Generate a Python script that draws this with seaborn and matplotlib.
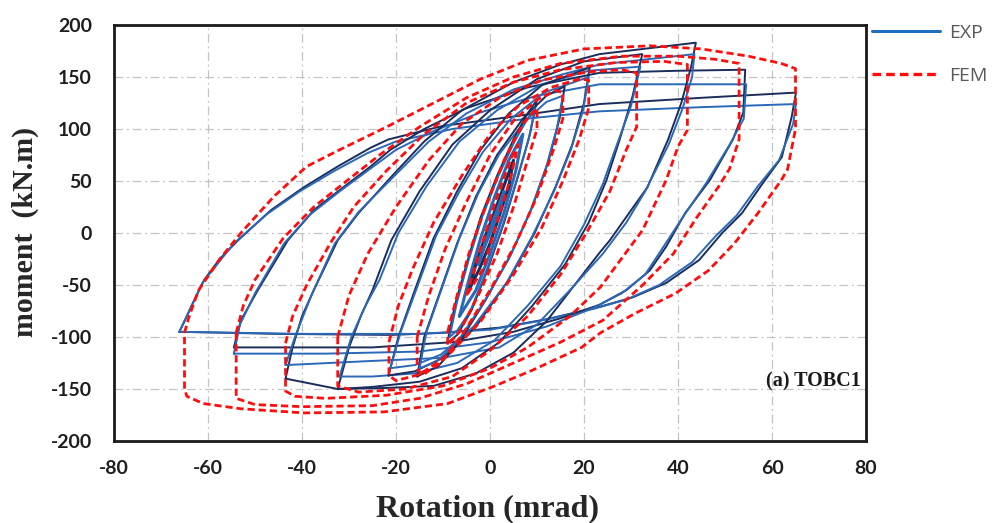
import matplotlib
matplotlib.use("Agg")
import matplotlib.pyplot as plt
import seaborn as sns
from matplotlib.lines import Line2D

# ---------------- data (rotation in mrad, moment in kN.m) ----------------
# Experimental loops (EXP)
EXP_66A_X = [-66.1, -64.8, -63.6, -60.8, -57.5, -53.6, -46.6, -39.6, -32.4, -25.4, -21.6, -10, 5, 23.3, 45, 65.1,
             64.2, 62.1, 57.9, 53.6, 49.4, 44.5, 37.5, 30.3, 23.3, 12, 2, -10, -21, -45, -66.1]
EXP_66A_Y = [-95, -83, -71, -45, -25, -7, 22, 44, 64, 82, 90, 103, 112, 124, 130, 135,
             112, 73, 47, 19, 0, -26, -48, -62, -71, -83, -91, -96, -98, -97, -95]
EXP_66B_X = [-66.1, -63.8, -61.2, -54.5, -47.5, -40.5, -33, -26, -20, -8, 8, 23.3, 45, 65.1,
             64.5, 61.5, 57, 52.5, 48, 43, 36, 29, 22, 10, 0, -15, -40, -66.1]
EXP_66B_Y = [-95, -73, -48, -10, 18, 40, 60, 77, 88, 100, 110, 117, 121, 124,
             105, 70, 45, 17, -3, -28, -50, -64, -73, -85, -93, -97, -97, -95]
EXP_55A_X = [-54.5, -53, -49.4, -43, -37.5, -31.2, -25.4, -21.2, -14, -5, 8, 23.3, 40, 54.3,
             53.9, 51.7, 46.8, 41.5, 37.5, 34, 29, 23.3, 15, 5, -8, -25, -40, -54.5]
EXP_55A_Y = [-110, -84, -55, -7, 22, 44, 64, 80, 100, 120, 140, 154, 156, 157,
             116, 90, 51, 19, -13, -36, -55, -69, -82, -95, -105, -110, -110, -110]
EXP_55B_X = [-54.5, -53.2, -50, -43.8, -38.2, -32, -26, -20, -12, -2, 10, 23.3, 40, 54.5,
             54, 51, 46, 41, 36.5, 33, 28, 22, 12, 0, -15, -35, -54.5]
EXP_55B_Y = [-116, -88, -58, -10, 18, 40, 60, 80, 98, 116, 132, 143, 143, 143,
             110, 85, 48, 15, -16, -40, -58, -72, -90, -105, -114, -116, -116]
EXP_44A_X = [-43.5, -42, -40, -37.5, -32.4, -28, -21, -14, -6, 5, 15, 23.3, 43.8,
             42.8, 40.7, 37.9, 33.5, 30.5, 25.5, 23.3, 18, 12, 5, -3, -12, -22, -32.4, -43.5]
EXP_44A_Y = [-140, -110, -80, -55, -7, 19, 54, 88, 118, 145, 162, 172, 183,
             160, 125, 90, 44, 25, -7, -19, -50, -85, -115, -135, -147, -149, -150, -140]
EXP_44B_X = [-43.5, -41.5, -38, -33, -28, -21, -13, -5, 5, 15, 23.3, 43.5,
             43, 41, 38, 33, 29, 24, 17, 10, 2, -10, -25, -43.5]
EXP_44B_Y = [-127, -100, -60, -10, 20, 52, 88, 115, 138, 152, 162, 172,
             150, 120, 85, 40, 10, -20, -55, -88, -110, -120, -123, -127]
EXP_33A_X = [-32.4, -30, -27.5, -25, -21, -15, -8, 0, 10, 20, 32.4,
             30.3, 27.6, 24.8, 21, 16, 9, 2, -6, -15, -25, -32.4]
EXP_33A_Y = [-150, -110, -80, -55, -7, 40, 85, 118, 148, 165, 172,
             131, 90, 51, 10, -30, -70, -105, -130, -143, -148, -150]
EXP_33B_X = [-32, -29.5, -26.5, -23.5, -19.5, -13.5, -6.5, 1.5, 11, 21, 32,
             30, 27, 24, 20, 15, 8, 1, -7, -16, -25, -32]
EXP_33B_Y = [-138, -100, -70, -45, 0, 45, 88, 118, 143, 156, 160,
             122, 85, 47, 8, -32, -70, -103, -125, -135, -138, -138]
EXP_22A_X = [-21.6, -19.5, -16, -12, -7, -2, 4, 11, 21.2, 20, 17.5, 14, 9.5, 4, -3, -10, -16, -21.6]
EXP_22A_Y = [-137, -100, -55, -5, 40, 80, 115, 142, 159, 125, 85, 45, 0, -45, -90, -120, -133, -137]
EXP_22B_X = [-21.2, -19, -15.5, -11.5, -6.5, -1.5, 4.5, 11.5, 21, 19.8, 17.2, 13.6, 9, 3.5, -3.5, -10.5, -16, -21.2]
EXP_22B_Y = [-130, -95, -52, -3, 40, 78, 110, 135, 150, 118, 80, 40, -3, -48, -90, -117, -127, -130]
EXP_16A_X = [-15.5, -14, -10.5, -7, -3, 1.5, 7, 12, 15.9, 14.8, 12.5, 9, 4.5, -1, -6.5, -11, -15.5]
EXP_16A_Y = [-138, -100, -55, -10, 35, 75, 110, 132, 141, 110, 70, 25, -20, -65, -105, -128, -138]
EXP_16B_X = [-15, -13.5, -10, -6.5, -2.5, 2, 7.5, 12, 15.5, 14.3, 12, 8.5, 4, -1.5, -7, -11.5, -15]
EXP_16B_Y = [-130, -95, -50, -5, 38, 76, 108, 126, 132, 102, 64, 20, -25, -68, -105, -124, -130]
EXP_10A_X = [-9.1, -7.5, -5, -2, 1.5, 5, 8, 10, 8.5, 6, 3, -0.5, -4, -7, -9.1]
EXP_10A_Y = [-106, -70, -30, 15, 55, 90, 115, 128, 95, 55, 10, -35, -75, -98, -106]
EXP_10B_X = [-8.6, -7, -4.6, -1.6, 1.8, 5.2, 8, 9.6, 8.1, 5.6, 2.6, -0.9, -4.2, -7, -8.6]
EXP_10B_Y = [-100, -66, -27, 16, 55, 88, 110, 120, 88, 50, 6, -38, -75, -94, -100]
EXP_7_X = [-6.5, -4.5, -2, 1, 4, 7, 5.5, 3, 0, -3, -6.5]
EXP_7_Y = [-80, -45, -5, 35, 70, 95, 60, 20, -20, -55, -80]
EXP_5_X = [-4.5, -3, -1, 1.5, 3.5, 5, 4, 2, 0, -2.3, -4.5]
EXP_5_Y = [-55, -30, -3, 27, 52, 70, 45, 17, -10, -35, -55]
EXP_3_X = [-2.5, -1.2, 0.5, 2, 3, 2, 0.3, -1.3, -2.5]
EXP_3_Y = [-30, -12, 10, 28, 40, 22, 3, -15, -30]

# Finite element loops (FEM)
FEM_66_X = [-65, -64, -62, -57.5, -53, -46, -39, -32, -22, -12, -2, 8, 20, 34, 45, 55, 62, 65,
            65, 65, 63.3, 62, 57, 52, 46.5, 39.5, 31, 23.5, 19.5, 9, 0.5, -9, -22.5, -39.5, -53, -61, -64.5, -65, -65]
FEM_66_Y = [-96, -80, -55, -25, 0, 35, 64, 80, 102, 125, 148, 166, 177, 180, 177, 170, 163, 158,
            130, 100, 61, 51, 19, -10, -36, -58, -77, -96, -110, -132, -148, -164, -172, -173, -169, -164, -157, -150, -96]
FEM_55_X = [-54, -52.5, -50, -44, -37.5, -30.5, -23.5, -15, -5, 5, 15, 28, 40, 48, 53,
            53, 53, 51, 48.7, 44, 39, 32.5, 24, 15, 5, -5, -15, -25, -40, -50, -54, -54]
FEM_55_Y = [-96, -70, -45, -5, 25, 50, 75, 102, 130, 150, 163, 170, 170, 167, 163,
            147, 90, 62, 45, 15, -20, -50, -84, -105, -125, -145, -159, -166, -167, -165, -159, -96]
FEM_44_X = [-43.5, -42, -39, -34, -29, -22, -14, -5, 5, 15, 27, 37, 42,
            42, 40, 37.5, 32.5, 23.5, 17, 8, 0, -10, -22, -35, -41.5, -43.5, -43.5]
FEM_44_Y = [-106, -80, -50, -10, 25, 60, 95, 125, 145, 157, 164, 165, 162,
            99, 83, 51, 3, -52, -80, -110, -130, -147, -156, -159, -157, -152, -106]
FEM_33_X = [-32.4, -30, -26, -20, -13, -6, 2, 11, 21, 28, 31.2,
            31.2, 29, 25.5, 20.5, 15, 8, 0, -8, -18, -28, -32.4, -32.4]
FEM_33_Y = [-100, -60, -20, 25, 70, 105, 130, 147, 155, 157, 154,
            102, 80, 40, 0, -40, -80, -113, -138, -150, -153, -147, -100]
FEM_22_X = [-21.5, -19.5, -16.5, -12, -6, 0, 6, 13, 19, 21,
            21, 19, 15.5, 11, 5, -2, -9, -15, -20, -21.5, -21.5]
FEM_22_Y = [-105, -70, -35, 10, 55, 95, 122, 140, 148, 147,
            120, 90, 50, 5, -40, -85, -118, -136, -142, -137, -105]
FEM_16_X = [-15.5, -13, -9.5, -5, 0, 5, 10, 14, 15.5, 15.5, 13.5, 10, 5.5, 0, -5.5, -10.5, -14.5, -15.5, -15.5]
FEM_16_Y = [-100, -60, -15, 30, 75, 108, 128, 137, 135, 110, 80, 35, -10, -55, -95, -125, -137, -130, -100]
FEM_10_X = [-9, -7, -4.5, -1, 3, 7, 10, 10, 8, 5, 1.5, -2.5, -6.5, -9, -9]
FEM_10_Y = [-95, -60, -20, 25, 70, 105, 120, 100, 70, 25, -20, -60, -95, -108, -95]
FEM_6_X = [-5, -2, 1.5, 4.5, 6, 4.5, 1.5, -1.5, -5]
FEM_6_Y = [-60, -15, 35, 72, 85, 55, 10, -35, -60]

X_TICKS = [-80, -60, -40, -20, 0, 20, 40, 60, 80]
Y_TICKS = [-200, -150, -100, -50, 0, 50, 100, 150, 200]
SERIES_LABELS = ["EXP", "FEM"]

# ---------------- styling ----------------
sns.set_theme(style="white")
plt.rcParams["font.family"] = ["DejaVu Sans"]

EXP_DARK = "#1b2d5a"
EXP_BLUE = "#2a68b8"
FEM_RED = "#ff0d0d"

fig = plt.figure(figsize=(9.93, 5.23), dpi=100)
ax = fig.add_axes([114 / 993, 1 - 441 / 523, 752 / 993, 416 / 523])

exp_loops = [
    (EXP_66A_X, EXP_66A_Y, EXP_DARK), (EXP_66B_X, EXP_66B_Y, EXP_BLUE),
    (EXP_55A_X, EXP_55A_Y, EXP_DARK), (EXP_55B_X, EXP_55B_Y, EXP_BLUE),
    (EXP_44A_X, EXP_44A_Y, EXP_DARK), (EXP_44B_X, EXP_44B_Y, EXP_BLUE),
    (EXP_33A_X, EXP_33A_Y, EXP_DARK), (EXP_33B_X, EXP_33B_Y, EXP_BLUE),
    (EXP_22A_X, EXP_22A_Y, EXP_DARK), (EXP_22B_X, EXP_22B_Y, EXP_BLUE),
    (EXP_16A_X, EXP_16A_Y, EXP_DARK), (EXP_16B_X, EXP_16B_Y, EXP_BLUE),
    (EXP_10A_X, EXP_10A_Y, EXP_DARK), (EXP_10B_X, EXP_10B_Y, EXP_BLUE),
    (EXP_7_X, EXP_7_Y, EXP_BLUE), (EXP_5_X, EXP_5_Y, EXP_DARK), (EXP_3_X, EXP_3_Y, EXP_BLUE),
]
fem_loops = [
    (FEM_66_X, FEM_66_Y), (FEM_55_X, FEM_55_Y), (FEM_44_X, FEM_44_Y),
    (FEM_33_X, FEM_33_Y), (FEM_22_X, FEM_22_Y), (FEM_16_X, FEM_16_Y),
    (FEM_10_X, FEM_10_Y), (FEM_6_X, FEM_6_Y),
]

for xs, ys, col in exp_loops:
    lw = 2.2 if max(xs) < 8 else 1.4
    sns.lineplot(x=xs, y=ys, sort=False, estimator=None, color=col, lw=lw, ax=ax)
for xs, ys in fem_loops:
    sns.lineplot(x=xs, y=ys, sort=False, estimator=None, color=FEM_RED, lw=2.0,
                 linestyle=(0, (2.6, 1.4)), ax=ax)

ax.set_xlim(-80, 80)
ax.set_ylim(-200, 200)
ax.set_xticks(X_TICKS)
ax.set_yticks(Y_TICKS)
ax.set_xticklabels([str(v) for v in X_TICKS])
ax.set_yticklabels([str(v) for v in Y_TICKS])
tick_font = dict(family=["Lato", "DejaVu Sans"], weight="bold", size=14)
for lab in ax.get_xticklabels() + ax.get_yticklabels():
    lab.set_fontproperties(matplotlib.font_manager.FontProperties(**tick_font))
    lab.set_color("#1e1e1e")
ax.tick_params(axis="both", length=0)
ax.tick_params(axis="x", pad=14)
ax.tick_params(axis="y", pad=16)

ax.grid(True, color="#c4c4c4", lw=0.9, linestyle=(0, (7, 3, 1.5, 3)))
ax.set_axisbelow(True)
for sp in ax.spines.values():
    sp.set_color("#1a1a1a")
    sp.set_linewidth(2.0)

ax.set_xlabel("Rotation (mrad)", family=["Liberation Serif"], weight="bold", fontsize=23)
ax.set_ylabel("moment  (kN.m)", family=["Liberation Serif"], weight="bold", fontsize=21.5)
ax.xaxis.set_label_coords(0.497, -0.162)
ax.xaxis.label.set_va("center")
ax.yaxis.set_label_coords(-0.118, 0.502)
ax.yaxis.label.set_va("center")

ax.text(78.9, -143, "(a) TOBC1", ha="right", va="center",
        family=["Liberation Serif"], weight="bold", fontsize=14.5, color="#1a1a1a")

handles = [Line2D([], [], color="#1f6fc0", lw=2.2),
           Line2D([], [], color=FEM_RED, lw=2.4, linestyle=(0, (2.6, 1.5)))]
fig.legend(handles, SERIES_LABELS, loc="upper left",
           bbox_to_anchor=(872 / 993, 1 - 24 / 523), frameon=False,
           handlelength=3.5, handletextpad=0.45, labelspacing=1.3,
           borderpad=0, borderaxespad=0,
           prop={"family": "Open Sans", "size": 14}, labelcolor="#595959")

fig.savefig("out.png", dpi=100)
